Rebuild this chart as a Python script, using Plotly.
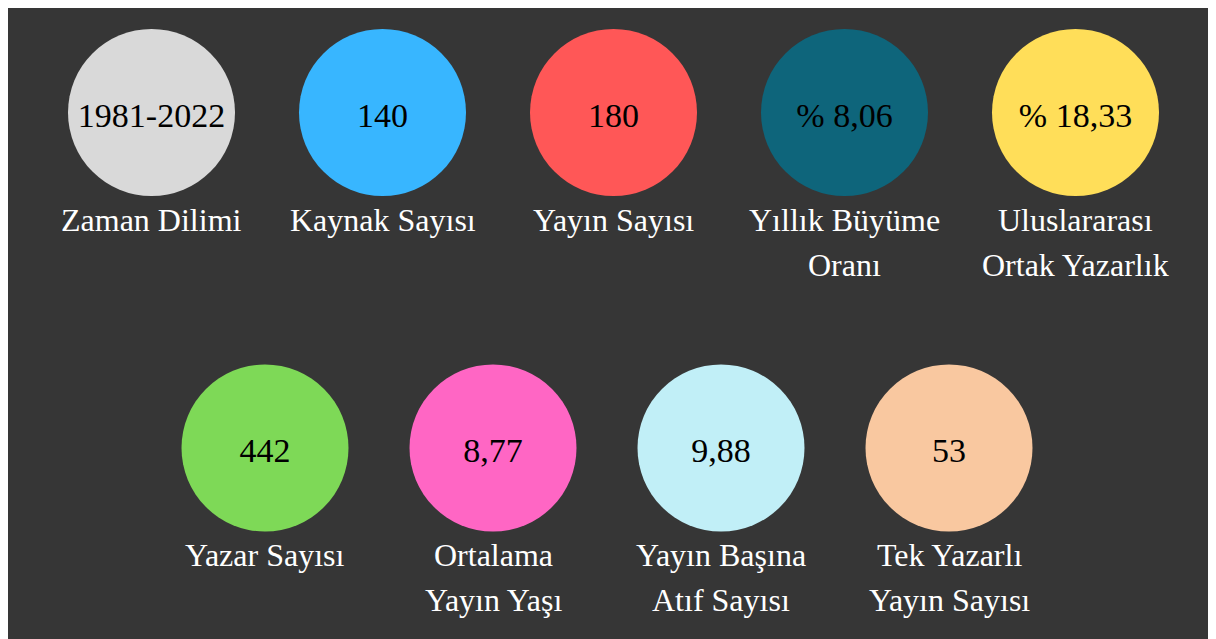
import plotly.graph_objects as go

# ---- data ----
row1_values = ["1981-2022", "140", "180", "% 8,06", "% 18,33"]
row1_labels = ["Zaman Dilimi", "Kaynak Sayısı", "Yayın Sayısı", "Yıllık Büyüme\nOranı", "Uluslararası\nOrtak Yazarlık"]
row1_colors = ["#D9D9D9", "#38B6FF", "#FF5757", "#0E657B", "#FFDE59"]

row2_values = ["442", "8,77", "9,88", "53"]
row2_labels = ["Yazar Sayısı", "Ortalama\nYayın Yaşı", "Yayın Başına\nAtıf Sayısı", "Tek Yazarlı\nYayın Sayısı"]
row2_colors = ["#7ED957", "#FF66C4", "#C1EFF7", "#F9C8A0"]

# ---- layout constants (screen-pixel coordinate system; page body margin is 8px) ----
OFF = 8
W, H = 1216 - OFF, 639 - OFF
BG = "#363636"
FONT = "Times New Roman, Liberation Serif, serif"
DIAM = 167

rows = [
    dict(values=row1_values, labels=row1_labels, colors=row1_colors,
         x0=151.5, dx=231, cy=112.5, ty=118, ly=220),
    dict(values=row2_values, labels=row2_labels, colors=row2_colors,
         x0=265, dx=228, cy=448, ty=453, ly=555),
]
LINE_GAP = 45

fig = go.Figure()
annotations = []
for r in rows:
    n = len(r["values"])
    xs = [r["x0"] + i * r["dx"] for i in range(n)]
    fig.add_trace(go.Scatter(
        x=xs, y=[r["cy"]] * n, mode="markers",
        marker=dict(size=DIAM, color=r["colors"], line=dict(width=0), opacity=1),
        hoverinfo="skip", showlegend=False,
    ))
    fig.add_trace(go.Scatter(
        x=xs, y=[r["ty"]] * n, mode="text", text=r["values"],
        textposition="middle center",
        textfont=dict(family=FONT, size=34, color="#000000"),
        hoverinfo="skip", showlegend=False,
    ))
    for x, lab in zip(xs, r["labels"]):
        for k, line in enumerate(lab.split("\n")):
            annotations.append(dict(
                x=x, y=r["ly"] + k * LINE_GAP, xref="x", yref="y",
                text=line, showarrow=False, xanchor="center", yanchor="middle",
                font=dict(family=FONT, size=32, color="#FFFFFF"),
            ))

fig.update_layout(
    width=W, height=H,
    margin=dict(l=0, r=0, t=0, b=0, pad=0),
    paper_bgcolor=BG,
    plot_bgcolor=BG,
    xaxis=dict(range=[OFF, OFF + W], visible=False, fixedrange=True),
    yaxis=dict(range=[OFF + H, OFF], visible=False, fixedrange=True),
    annotations=annotations,
    showlegend=False,
)

fig.write_html("out.html", config={"displayModeBar": False})
